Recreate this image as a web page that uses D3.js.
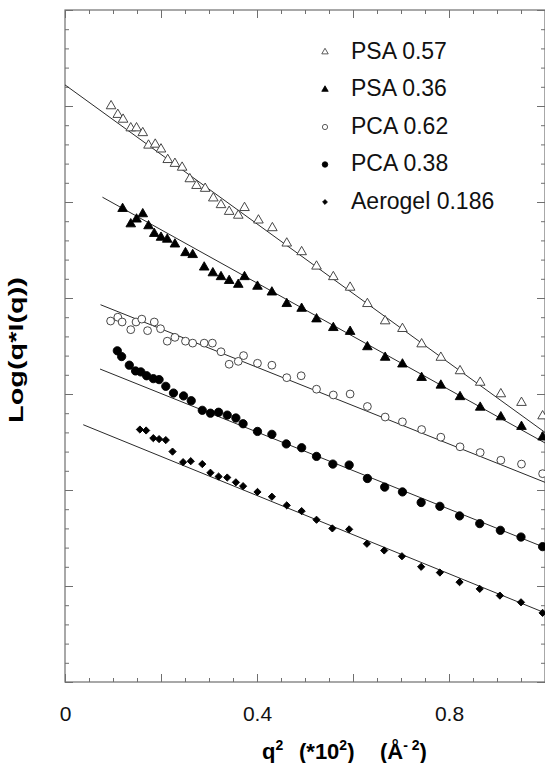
<!DOCTYPE html>
<html>
<head>
<meta charset="utf-8">
<script src="https://cdn.jsdelivr.net/npm/d3@7"></script>
<style>
  body { margin: 0; background: #fff; }
  svg { display: block; font-family: "Liberation Sans", Arial, sans-serif; }
</style>
</head>
<body>
<div id="chart"></div>
<script>
// ── data (x = q² ×10², y = log(q·I(q)))
const seriesNames = ['PSA 0.57', 'PSA 0.36', 'PCA 0.62', 'PCA 0.38', 'Aerogel 0.186'];

const psa57X = [0.096, 0.110, 0.121, 0.137, 0.149, 0.162, 0.174, 0.188, 0.200, 0.214, 0.229, 0.244,
  0.260, 0.274, 0.292, 0.309, 0.325, 0.342, 0.361, 0.374, 0.403, 0.432, 0.462, 0.493, 0.524, 0.559,
  0.594, 0.630, 0.667, 0.703, 0.743, 0.783, 0.823, 0.865, 0.908, 0.951, 0.995];
const psa57Y = [6.00, 5.91, 5.86, 5.77, 5.77, 5.72, 5.59, 5.60, 5.55, 5.44, 5.40, 5.36,
  5.24, 5.17, 5.14, 5.04, 4.97, 4.90, 4.86, 4.94, 4.81, 4.73, 4.57, 4.48, 4.33, 4.22,
  4.11, 3.94, 3.76, 3.68, 3.52, 3.38, 3.24, 3.12, 3.00, 2.91, 2.77];

const psa36X = [0.120, 0.137, 0.149, 0.162, 0.174, 0.186, 0.200, 0.213, 0.229, 0.251, 0.266, 0.290,
  0.308, 0.325, 0.342, 0.361, 0.374, 0.401, 0.431, 0.462, 0.493, 0.524, 0.559, 0.594, 0.630, 0.667,
  0.703, 0.743, 0.783, 0.823, 0.865, 0.908, 0.951, 0.995];
const psa36Y = [4.93, 4.77, 4.82, 4.875, 4.75, 4.67, 4.63, 4.61, 4.56, 4.47, 4.45, 4.32,
  4.26, 4.22, 4.18, 4.14, 4.22, 4.12, 4.06, 3.94, 3.89, 3.78, 3.69, 3.65, 3.49, 3.38,
  3.31, 3.17, 3.09, 2.97, 2.86, 2.76, 2.66, 2.55];

const pca62X = [0.095, 0.110, 0.119, 0.137, 0.148, 0.160, 0.172, 0.186, 0.199, 0.213, 0.229, 0.251,
  0.266, 0.290, 0.307, 0.325, 0.342, 0.361, 0.372, 0.401, 0.431, 0.462, 0.492, 0.524, 0.559, 0.594,
  0.630, 0.667, 0.703, 0.743, 0.783, 0.823, 0.865, 0.908, 0.951, 0.995];
const pca62Y = [3.76, 3.80, 3.75, 3.67, 3.75, 3.78, 3.66, 3.75, 3.68, 3.55, 3.59, 3.55,
  3.53, 3.53, 3.53, 3.44, 3.31, 3.34, 3.40, 3.32, 3.30, 3.17, 3.19, 3.05, 2.99, 3.00,
  2.87, 2.76, 2.71, 2.63, 2.55, 2.45, 2.39, 2.31, 2.27, 2.17];

const pca38X = [0.109, 0.118, 0.134, 0.147, 0.158, 0.170, 0.184, 0.196, 0.210, 0.226, 0.247, 0.263,
  0.286, 0.303, 0.320, 0.338, 0.356, 0.371, 0.401, 0.431, 0.461, 0.493, 0.524, 0.558, 0.592, 0.630,
  0.666, 0.703, 0.742, 0.781, 0.822, 0.864, 0.907, 0.950, 0.995];
const pca38Y = [3.45, 3.39, 3.30, 3.24, 3.23, 3.19, 3.16, 3.15, 3.08, 3.01, 2.98, 2.93,
  2.83, 2.80, 2.81, 2.78, 2.75, 2.69, 2.61, 2.58, 2.48, 2.44, 2.35, 2.27, 2.26, 2.12,
  2.03, 1.98, 1.87, 1.83, 1.73, 1.65, 1.58, 1.51, 1.41];

const aeroX = [0.156, 0.169, 0.184, 0.196, 0.210, 0.224, 0.246, 0.262, 0.286, 0.303, 0.320, 0.338,
  0.356, 0.371, 0.401, 0.431, 0.462, 0.493, 0.524, 0.557, 0.592, 0.629, 0.665, 0.702, 0.742, 0.781,
  0.822, 0.864, 0.906, 0.950, 0.995];
const aeroY = [2.63, 2.62, 2.54, 2.53, 2.52, 2.40, 2.29, 2.30, 2.27, 2.18, 2.14, 2.13,
  2.08, 2.04, 1.98, 1.93, 1.84, 1.78, 1.69, 1.60, 1.59, 1.44, 1.37, 1.31, 1.20, 1.14,
  1.04, 0.97, 0.90, 0.83, 0.72];

// straight fits: [x start, y start, x end, y end]
const fitPsa57 = [0.0, 6.22, 1.0, 2.60];
const fitPsa36 = [0.078, 5.05, 1.0, 2.49];
const fitPca62 = [0.074, 3.93, 1.0, 2.08];
const fitPca38 = [0.073, 3.26, 1.0, 1.40];
const fitAero  = [0.038, 2.68, 1.0, 0.72];

const xTickLabels = [0, 0.4, 0.8];

// ── layout
const W = 545, H = 763;
const plotL = 65, plotR = 545, plotT = 10, plotB = 682;

const x = d3.scaleLinear().domain([0, 1]).range([plotL, plotR]);
const y = d3.scaleLinear().domain([0, 7]).range([plotB, plotT]);

const svg = d3.select('#chart').append('svg')
  .attr('width', W).attr('height', H);

// frame
svg.append('rect')
  .attr('x', x(0)).attr('y', y(7))
  .attr('width', x(1) - x(0)).attr('height', y(0) - y(7))
  .attr('fill', 'none').attr('stroke', '#6f6f6f').attr('stroke-width', 1.2);

const xMinor = d3.range(0, 1.0001, 0.05);
const xMajor = d3.range(0, 1.0001, 0.2);
const yMinor = d3.range(0, 7.0001, 0.2);
const yMajor = d3.range(0, 7.0001, 1);

function tickAxis(axis, values, size, transform) {
  svg.append('g')
    .attr('transform', transform)
    .call(axis.tickValues(values).tickSize(-size).tickFormat(''))
    .call(g => g.select('.domain').remove())
    .call(g => g.selectAll('.tick line').attr('stroke', '#6f6f6f').attr('stroke-width', 1));
}

// inward ticks on all four sides
tickAxis(d3.axisBottom(x), xMinor, 4, `translate(0,${plotB})`);
tickAxis(d3.axisBottom(x), xMajor, 8, `translate(0,${plotB})`);
tickAxis(d3.axisTop(x), xMinor, 4, `translate(0,${plotT})`);
tickAxis(d3.axisTop(x), xMajor, 8, `translate(0,${plotT})`);
tickAxis(d3.axisLeft(y), yMinor, 4, `translate(${plotL},0)`);
tickAxis(d3.axisLeft(y), yMajor, 8, `translate(${plotL},0)`);
tickAxis(d3.axisRight(y), yMinor, 4, `translate(${plotR},0)`);
tickAxis(d3.axisRight(y), yMajor, 8, `translate(${plotR},0)`);

// x tick labels
svg.append('g')
  .attr('transform', `translate(0,${plotB})`)
  .call(d3.axisBottom(x).tickValues(xTickLabels).tickSize(0).tickPadding(24)
    .tickFormat(d => d === 0 ? '0' : d3.format('.1f')(d)))
  .call(g => g.select('.domain').remove())
  .call(g => g.selectAll('text')
    .attr('font-size', 21)
    .attr('font-family', '"Liberation Sans", Arial, sans-serif')
    .attr('fill', '#111'));

// axis titles
svg.append('text')
  .attr('transform', 'translate(23,350) rotate(-90)')
  .attr('text-anchor', 'middle')
  .attr('font-size', 19.5)
  .attr('font-weight', 'bold')
  .attr('textLength', 146)
  .attr('lengthAdjust', 'spacingAndGlyphs')
  .attr('fill', '#000')
  .text('Log(q*I(q))');

const xt = svg.append('text')
  .attr('x', 262).attr('y', 759)
  .attr('font-size', 22)
  .attr('font-weight', 'bold')
  .attr('fill', '#000');
xt.append('tspan').text('q');
xt.append('tspan').attr('dy', -9).attr('font-size', 14).text('2');
xt.append('tspan').attr('x', 299).attr('dy', 9).text('(*10');
xt.append('tspan').attr('dy', -9).attr('font-size', 14).text('2');
xt.append('tspan').attr('dy', 9).text(')');
xt.append('tspan').attr('x', 380).text('(Å');
xt.append('tspan').attr('dy', -9).attr('font-size', 14).text('-\u00a02');
xt.append('tspan').attr('dy', 9).text(')');

// fit lines
const fits = [fitPsa57, fitPsa36, fitPca62, fitPca38, fitAero];
svg.append('g').selectAll('line')
  .data(fits).enter().append('line')
    .attr('x1', d => x(d[0])).attr('y1', d => y(d[1]))
    .attr('x2', d => x(d[2])).attr('y2', d => y(d[3]))
    .attr('stroke', '#2a2a2a').attr('stroke-width', 1);

// marker styles
const styles = [
  { shape: d3.symbolTriangle, size: 40, fill: '#fff', stroke: '#333', rot: 0 },
  { shape: d3.symbolTriangle, size: 40, fill: '#000', stroke: '#000', rot: 0 },
  { shape: d3.symbolCircle,   size: 48, fill: '#fff', stroke: '#333', rot: 0 },
  { shape: d3.symbolCircle,   size: 54, fill: '#000', stroke: '#000', rot: 0 },
  { shape: d3.symbolSquare,   size: 26, fill: '#000', stroke: '#000', rot: 45 }
];
const xs = [psa57X, psa36X, pca62X, pca38X, aeroX];
const ys = [psa57Y, psa36Y, pca62Y, pca38Y, aeroY];

xs.forEach((col, i) => {
  const st = styles[i];
  const pts = col.map((v, j) => [v, ys[i][j]]);
  svg.append('g').selectAll('path')
    .data(pts).enter().append('path')
      .attr('d', d3.symbol().type(st.shape).size(st.size))
      .attr('transform', d => `translate(${x(d[0])},${y(d[1])}) rotate(${st.rot})`)
      .attr('fill', st.fill)
      .attr('stroke', st.stroke)
      .attr('stroke-width', 0.9);
});

// legend
const legend = svg.append('g').attr('transform', 'translate(325,52)');
seriesNames.forEach((name, i) => {
  const st = styles[i];
  const row = legend.append('g').attr('transform', `translate(0,${i * 37.5})`);
  row.append('path')
    .attr('d', d3.symbol().type(st.shape).size(st.size * 0.45))
    .attr('transform', `rotate(${st.rot})`)
    .attr('fill', st.fill).attr('stroke', st.stroke).attr('stroke-width', 0.8);
  row.append('text')
    .attr('x', 26).attr('y', 6.5)
    .attr('font-size', 23)
    .attr('fill', '#111')
    .text(name);
});
</script>
</body>
</html>
